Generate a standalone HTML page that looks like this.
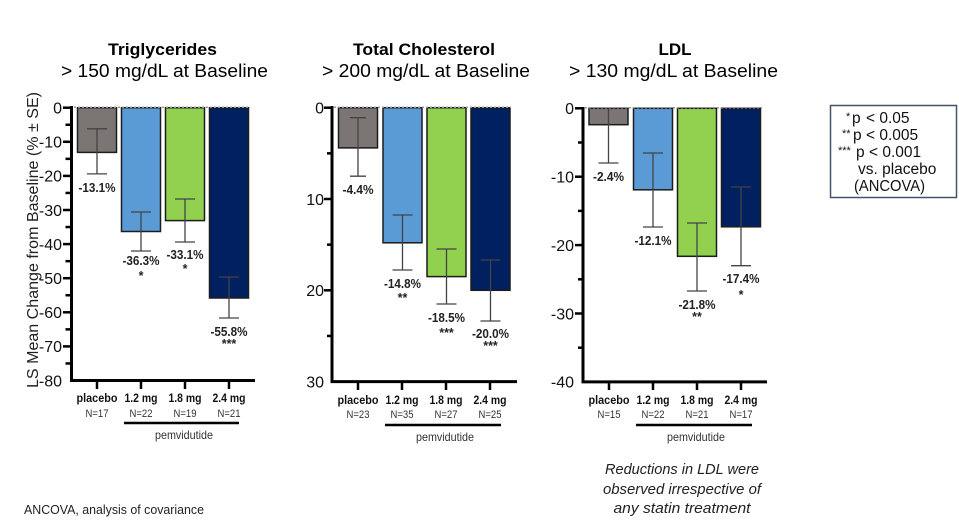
<!DOCTYPE html>
<html><head><meta charset="utf-8"><style>
html,body{margin:0;padding:0;background:#fff;}
svg{display:block;}
text{font-family:"Liberation Sans",Arial,sans-serif;}
</style></head><body>
<svg width="959" height="528" viewBox="0 0 959 528" xmlns="http://www.w3.org/2000/svg">
<rect width="959" height="528" fill="#fff"/>

<!-- Titles -->
<g fill="#000">
<text x="162.5" y="55" font-size="17" font-weight="bold" text-anchor="middle" textLength="109" lengthAdjust="spacingAndGlyphs">Triglycerides</text>
<text x="164.5" y="77" font-size="18.5" text-anchor="middle" textLength="207" lengthAdjust="spacingAndGlyphs">&gt; 150 mg/dL at Baseline</text>
<text x="424" y="55" font-size="17" font-weight="bold" text-anchor="middle" textLength="142" lengthAdjust="spacingAndGlyphs">Total Cholesterol</text>
<text x="426" y="77" font-size="18.5" text-anchor="middle" textLength="208" lengthAdjust="spacingAndGlyphs">&gt; 200 mg/dL at Baseline</text>
<text x="675" y="55" font-size="17" font-weight="bold" text-anchor="middle" textLength="33" lengthAdjust="spacingAndGlyphs">LDL</text>
<text x="673.5" y="77" font-size="18.5" text-anchor="middle" textLength="209" lengthAdjust="spacingAndGlyphs">&gt; 130 mg/dL at Baseline</text>
</g>

<!-- Y axis label -->
<text transform="translate(38,240) rotate(-90)" font-size="16" text-anchor="middle" fill="#222" textLength="296" lengthAdjust="spacingAndGlyphs">LS Mean Change from Baseline (% ± SE)</text>

<!-- ============ CHART 1 ============ -->
<g>
  <rect x="77.5" y="107.7" width="39" height="44.7" fill="#7b7674" stroke="#1c1c1c" stroke-width="1.5"/>
  <rect x="121.5" y="107.7" width="39" height="123.8" fill="#5b9bd5" stroke="#1c1c1c" stroke-width="1.5"/>
  <rect x="165.5" y="107.7" width="39" height="112.9" fill="#92d050" stroke="#1c1c1c" stroke-width="1.5"/>
  <rect x="209.5" y="107.7" width="39" height="190.3" fill="#002060" stroke="#1c1c1c" stroke-width="1.5"/>
  <line x1="74" y1="107.2" x2="250" y2="107.2" stroke="#999" stroke-width="1.5" stroke-dasharray="2 2"/>
  <g stroke="#444" stroke-width="1.3" fill="none">
    <path d="M97 128.8V173.9M87 128.8H107M87 173.9H107"/>
    <path d="M141 212V251M131 212H151M131 251H151"/>
    <path d="M185 199V242M175 199H195M175 242H195"/>
    <path d="M229 277V318M219 277H239M219 318H239"/>
  </g>
  <g stroke="#000">
    <line x1="71.5" y1="106" x2="71.5" y2="382" stroke-width="3"/>
    <line x1="70" y1="380.5" x2="255" y2="380.5" stroke-width="3"/>
    <g stroke-width="2.5">
      <line x1="63" y1="107.7" x2="71" y2="107.7"/>
      <line x1="63" y1="141.8" x2="71" y2="141.8"/>
      <line x1="63" y1="175.9" x2="71" y2="175.9"/>
      <line x1="63" y1="210" x2="71" y2="210"/>
      <line x1="63" y1="244.1" x2="71" y2="244.1"/>
      <line x1="63" y1="278.2" x2="71" y2="278.2"/>
      <line x1="63" y1="312.3" x2="71" y2="312.3"/>
      <line x1="63" y1="346.4" x2="71" y2="346.4"/>
      <line x1="65.5" y1="124.75" x2="71" y2="124.75"/>
      <line x1="65.5" y1="158.85" x2="71" y2="158.85"/>
      <line x1="65.5" y1="192.95" x2="71" y2="192.95"/>
      <line x1="65.5" y1="227.05" x2="71" y2="227.05"/>
      <line x1="65.5" y1="261.15" x2="71" y2="261.15"/>
      <line x1="65.5" y1="295.25" x2="71" y2="295.25"/>
      <line x1="65.5" y1="329.35" x2="71" y2="329.35"/>
      <line x1="65.5" y1="363.45" x2="71" y2="363.45"/>
      <line x1="97" y1="380" x2="97" y2="389"/>
      <line x1="141" y1="380" x2="141" y2="389"/>
      <line x1="185" y1="380" x2="185" y2="389"/>
      <line x1="229" y1="380" x2="229" y2="389"/>
    </g>
  </g>
  <g font-size="16" fill="#111" text-anchor="end">
    <text x="62" y="113.5">0</text>
    <text x="62" y="147.6">-10</text>
    <text x="62" y="181.7">-20</text>
    <text x="62" y="215.8">-30</text>
    <text x="62" y="249.9">-40</text>
    <text x="62" y="284">-50</text>
    <text x="62" y="318.1">-60</text>
    <text x="62" y="352.2">-70</text>
    <text x="62" y="386.3">-80</text>
  </g>
  <g font-size="12.5" font-weight="bold" fill="#222" text-anchor="middle">
    <text x="97" y="192" textLength="37" lengthAdjust="spacingAndGlyphs">-13.1%</text>
    <text x="141" y="265" textLength="37" lengthAdjust="spacingAndGlyphs">-36.3%</text>
    <text x="141" y="280">*</text>
    <text x="185" y="259" textLength="37" lengthAdjust="spacingAndGlyphs">-33.1%</text>
    <text x="185" y="273">*</text>
    <text x="229" y="336" textLength="37" lengthAdjust="spacingAndGlyphs">-55.8%</text>
    <text x="229" y="348">***</text>
  </g>
  <g font-size="12" font-weight="bold" fill="#111" text-anchor="middle">
    <text x="97" y="402" textLength="41" lengthAdjust="spacingAndGlyphs">placebo</text>
    <text x="141" y="402" textLength="33" lengthAdjust="spacingAndGlyphs">1.2 mg</text>
    <text x="185" y="402" textLength="33" lengthAdjust="spacingAndGlyphs">1.8 mg</text>
    <text x="229" y="402" textLength="33" lengthAdjust="spacingAndGlyphs">2.4 mg</text>
  </g>
  <g font-size="11" fill="#333" text-anchor="middle">
    <text x="97" y="417" textLength="23" lengthAdjust="spacingAndGlyphs">N=17</text>
    <text x="141" y="417" textLength="23" lengthAdjust="spacingAndGlyphs">N=22</text>
    <text x="185" y="417" textLength="23" lengthAdjust="spacingAndGlyphs">N=19</text>
    <text x="229" y="417" textLength="23" lengthAdjust="spacingAndGlyphs">N=21</text>
  </g>
  <line x1="124" y1="423" x2="239" y2="423" stroke="#000" stroke-width="2.5"/>
  <text x="184" y="439" font-size="12" fill="#333" text-anchor="middle" textLength="58" lengthAdjust="spacingAndGlyphs">pemvidutide</text>
</g>

<!-- ============ CHART 2 ============ -->
<g>
  <rect x="338.5" y="107.7" width="39" height="40.2" fill="#7b7674" stroke="#1c1c1c" stroke-width="1.5"/>
  <rect x="383" y="107.7" width="39" height="135.1" fill="#5b9bd5" stroke="#1c1c1c" stroke-width="1.5"/>
  <rect x="427" y="107.7" width="39" height="168.9" fill="#92d050" stroke="#1c1c1c" stroke-width="1.5"/>
  <rect x="471" y="107.7" width="39" height="182.6" fill="#002060" stroke="#1c1c1c" stroke-width="1.5"/>
  <line x1="334" y1="107.2" x2="511" y2="107.2" stroke="#999" stroke-width="1.5" stroke-dasharray="2 2"/>
  <g stroke="#444" stroke-width="1.3" fill="none">
    <path d="M358 117.7V176.2M350 117.7H366M350 176.2H366"/>
    <path d="M402.5 215V270M392.5 215H412.5M392.5 270H412.5"/>
    <path d="M446.5 249V304M436.5 249H456.5M436.5 304H456.5"/>
    <path d="M490.5 260V321M480.5 260H500.5M480.5 321H500.5"/>
  </g>
  <g stroke="#000">
    <line x1="332" y1="106" x2="332" y2="383" stroke-width="3"/>
    <line x1="330.5" y1="381.6" x2="517" y2="381.6" stroke-width="3"/>
    <g stroke-width="2.5">
      <line x1="324" y1="107.7" x2="332" y2="107.7"/>
      <line x1="324" y1="199" x2="332" y2="199"/>
      <line x1="324" y1="290.3" x2="332" y2="290.3"/>
      <line x1="327" y1="153.35" x2="332" y2="153.35"/>
      <line x1="327" y1="244.65" x2="332" y2="244.65"/>
      <line x1="327" y1="335.95" x2="332" y2="335.95"/>
      <line x1="358" y1="381" x2="358" y2="390"/>
      <line x1="402" y1="381" x2="402" y2="390"/>
      <line x1="446" y1="381" x2="446" y2="390"/>
      <line x1="490" y1="381" x2="490" y2="390"/>
    </g>
  </g>
  <g font-size="16" fill="#111" text-anchor="end">
    <text x="324" y="113.5">0</text>
    <text x="324" y="204.8">10</text>
    <text x="324" y="296.1">20</text>
    <text x="324" y="387.4">30</text>
  </g>
  <g font-size="12.5" font-weight="bold" fill="#222" text-anchor="middle">
    <text x="358" y="194" textLength="31" lengthAdjust="spacingAndGlyphs">-4.4%</text>
    <text x="402.5" y="288" textLength="37" lengthAdjust="spacingAndGlyphs">-14.8%</text>
    <text x="402.5" y="302">**</text>
    <text x="446.5" y="322" textLength="37" lengthAdjust="spacingAndGlyphs">-18.5%</text>
    <text x="446.5" y="337">***</text>
    <text x="490.5" y="338" textLength="37" lengthAdjust="spacingAndGlyphs">-20.0%</text>
    <text x="490.5" y="350">***</text>
  </g>
  <g font-size="12" font-weight="bold" fill="#111" text-anchor="middle">
    <text x="358" y="404" textLength="41" lengthAdjust="spacingAndGlyphs">placebo</text>
    <text x="402" y="404" textLength="33" lengthAdjust="spacingAndGlyphs">1.2 mg</text>
    <text x="446" y="404" textLength="33" lengthAdjust="spacingAndGlyphs">1.8 mg</text>
    <text x="490" y="404" textLength="33" lengthAdjust="spacingAndGlyphs">2.4 mg</text>
  </g>
  <g font-size="11" fill="#333" text-anchor="middle">
    <text x="358" y="418" textLength="23" lengthAdjust="spacingAndGlyphs">N=23</text>
    <text x="402" y="418" textLength="23" lengthAdjust="spacingAndGlyphs">N=35</text>
    <text x="446" y="418" textLength="23" lengthAdjust="spacingAndGlyphs">N=27</text>
    <text x="490" y="418" textLength="23" lengthAdjust="spacingAndGlyphs">N=25</text>
  </g>
  <line x1="385" y1="425" x2="501" y2="425" stroke="#000" stroke-width="2.5"/>
  <text x="445" y="441" font-size="12" fill="#333" text-anchor="middle" textLength="58" lengthAdjust="spacingAndGlyphs">pemvidutide</text>
</g>

<!-- ============ CHART 3 ============ -->
<g>
  <rect x="589" y="108.3" width="39" height="16.4" fill="#7b7674" stroke="#1c1c1c" stroke-width="1.5"/>
  <rect x="633.5" y="108.3" width="39" height="81.5" fill="#5b9bd5" stroke="#1c1c1c" stroke-width="1.5"/>
  <rect x="677.5" y="108.3" width="39" height="148" fill="#92d050" stroke="#1c1c1c" stroke-width="1.5"/>
  <rect x="721.5" y="108.3" width="39" height="118.5" fill="#002060" stroke="#1c1c1c" stroke-width="1.5"/>
  <line x1="585" y1="107.8" x2="762" y2="107.8" stroke="#999" stroke-width="1.5" stroke-dasharray="2 2"/>
  <g stroke="#444" stroke-width="1.3" fill="none">
    <path d="M608.5 108.3V163M598.5 163H618.5"/>
    <path d="M653 153V227M643 153H663M643 227H663"/>
    <path d="M697 223V291M687 223H707M687 291H707"/>
    <path d="M741 187V265.7M731 187H751M731 265.7H751"/>
  </g>
  <g stroke="#000">
    <line x1="583" y1="107" x2="583" y2="383" stroke-width="3"/>
    <line x1="581.5" y1="381.9" x2="767" y2="381.9" stroke-width="3"/>
    <g stroke-width="2.5">
      <line x1="575" y1="108.3" x2="583" y2="108.3"/>
      <line x1="575" y1="176.7" x2="583" y2="176.7"/>
      <line x1="575" y1="245.1" x2="583" y2="245.1"/>
      <line x1="575" y1="313.5" x2="583" y2="313.5"/>
      <line x1="578" y1="142.5" x2="583" y2="142.5"/>
      <line x1="578" y1="210.9" x2="583" y2="210.9"/>
      <line x1="578" y1="279.3" x2="583" y2="279.3"/>
      <line x1="578" y1="347.7" x2="583" y2="347.7"/>
      <line x1="609" y1="381" x2="609" y2="390"/>
      <line x1="653" y1="381" x2="653" y2="390"/>
      <line x1="697" y1="381" x2="697" y2="390"/>
      <line x1="741" y1="381" x2="741" y2="390"/>
    </g>
  </g>
  <g font-size="16" fill="#111" text-anchor="end">
    <text x="574" y="114.1">0</text>
    <text x="574" y="182.5">-10</text>
    <text x="574" y="250.9">-20</text>
    <text x="574" y="319.3">-30</text>
    <text x="574" y="387.7">-40</text>
  </g>
  <g font-size="12.5" font-weight="bold" fill="#222" text-anchor="middle">
    <text x="608.5" y="181" textLength="31" lengthAdjust="spacingAndGlyphs">-2.4%</text>
    <text x="653" y="245" textLength="37" lengthAdjust="spacingAndGlyphs">-12.1%</text>
    <text x="697" y="309" textLength="37" lengthAdjust="spacingAndGlyphs">-21.8%</text>
    <text x="697" y="321">**</text>
    <text x="741" y="283" textLength="37" lengthAdjust="spacingAndGlyphs">-17.4%</text>
    <text x="741" y="299">*</text>
  </g>
  <g font-size="12" font-weight="bold" fill="#111" text-anchor="middle">
    <text x="609" y="404" textLength="41" lengthAdjust="spacingAndGlyphs">placebo</text>
    <text x="653" y="404" textLength="33" lengthAdjust="spacingAndGlyphs">1.2 mg</text>
    <text x="697" y="404" textLength="33" lengthAdjust="spacingAndGlyphs">1.8 mg</text>
    <text x="741" y="404" textLength="33" lengthAdjust="spacingAndGlyphs">2.4 mg</text>
  </g>
  <g font-size="11" fill="#333" text-anchor="middle">
    <text x="609" y="418" textLength="23" lengthAdjust="spacingAndGlyphs">N=15</text>
    <text x="653" y="418" textLength="23" lengthAdjust="spacingAndGlyphs">N=22</text>
    <text x="697" y="418" textLength="23" lengthAdjust="spacingAndGlyphs">N=21</text>
    <text x="741" y="418" textLength="23" lengthAdjust="spacingAndGlyphs">N=17</text>
  </g>
  <line x1="636" y1="425" x2="752" y2="425" stroke="#000" stroke-width="2.5"/>
  <text x="696" y="441" font-size="12" fill="#333" text-anchor="middle" textLength="58" lengthAdjust="spacingAndGlyphs">pemvidutide</text>
</g>

<!-- Italic note -->
<g font-size="15" font-style="italic" fill="#222" text-anchor="middle">
  <text x="682" y="474" textLength="154" lengthAdjust="spacingAndGlyphs">Reductions in LDL were</text>
  <text x="682" y="494" textLength="158" lengthAdjust="spacingAndGlyphs">observed irrespective of</text>
  <text x="682" y="513" textLength="137" lengthAdjust="spacingAndGlyphs">any statin treatment</text>
</g>

<!-- Legend -->
<rect x="830.5" y="105.5" width="126" height="92" fill="#fff" stroke="#44546a" stroke-width="1.5"/>
<g font-size="15.5" fill="#111">
  <text x="846" y="120" font-size="11">*</text>
  <text x="852" y="123">p</text>
  <text x="866" y="123">&lt; 0.05</text>
  <text x="842" y="137" font-size="11">**</text>
  <text x="853" y="140">p</text>
  <text x="866" y="140">&lt; 0.005</text>
  <text x="838" y="154" font-size="11">***</text>
  <text x="856" y="157">p</text>
  <text x="869" y="157">&lt; 0.001</text>
  <text x="858" y="174">vs. placebo</text>
  <text x="854" y="191" textLength="71" lengthAdjust="spacingAndGlyphs">(ANCOVA)</text>
</g>

<!-- Footnote -->
<text x="24" y="514" font-size="12.5" fill="#222" textLength="180" lengthAdjust="spacingAndGlyphs">ANCOVA, analysis  of covariance</text>
</svg>
</body></html>
